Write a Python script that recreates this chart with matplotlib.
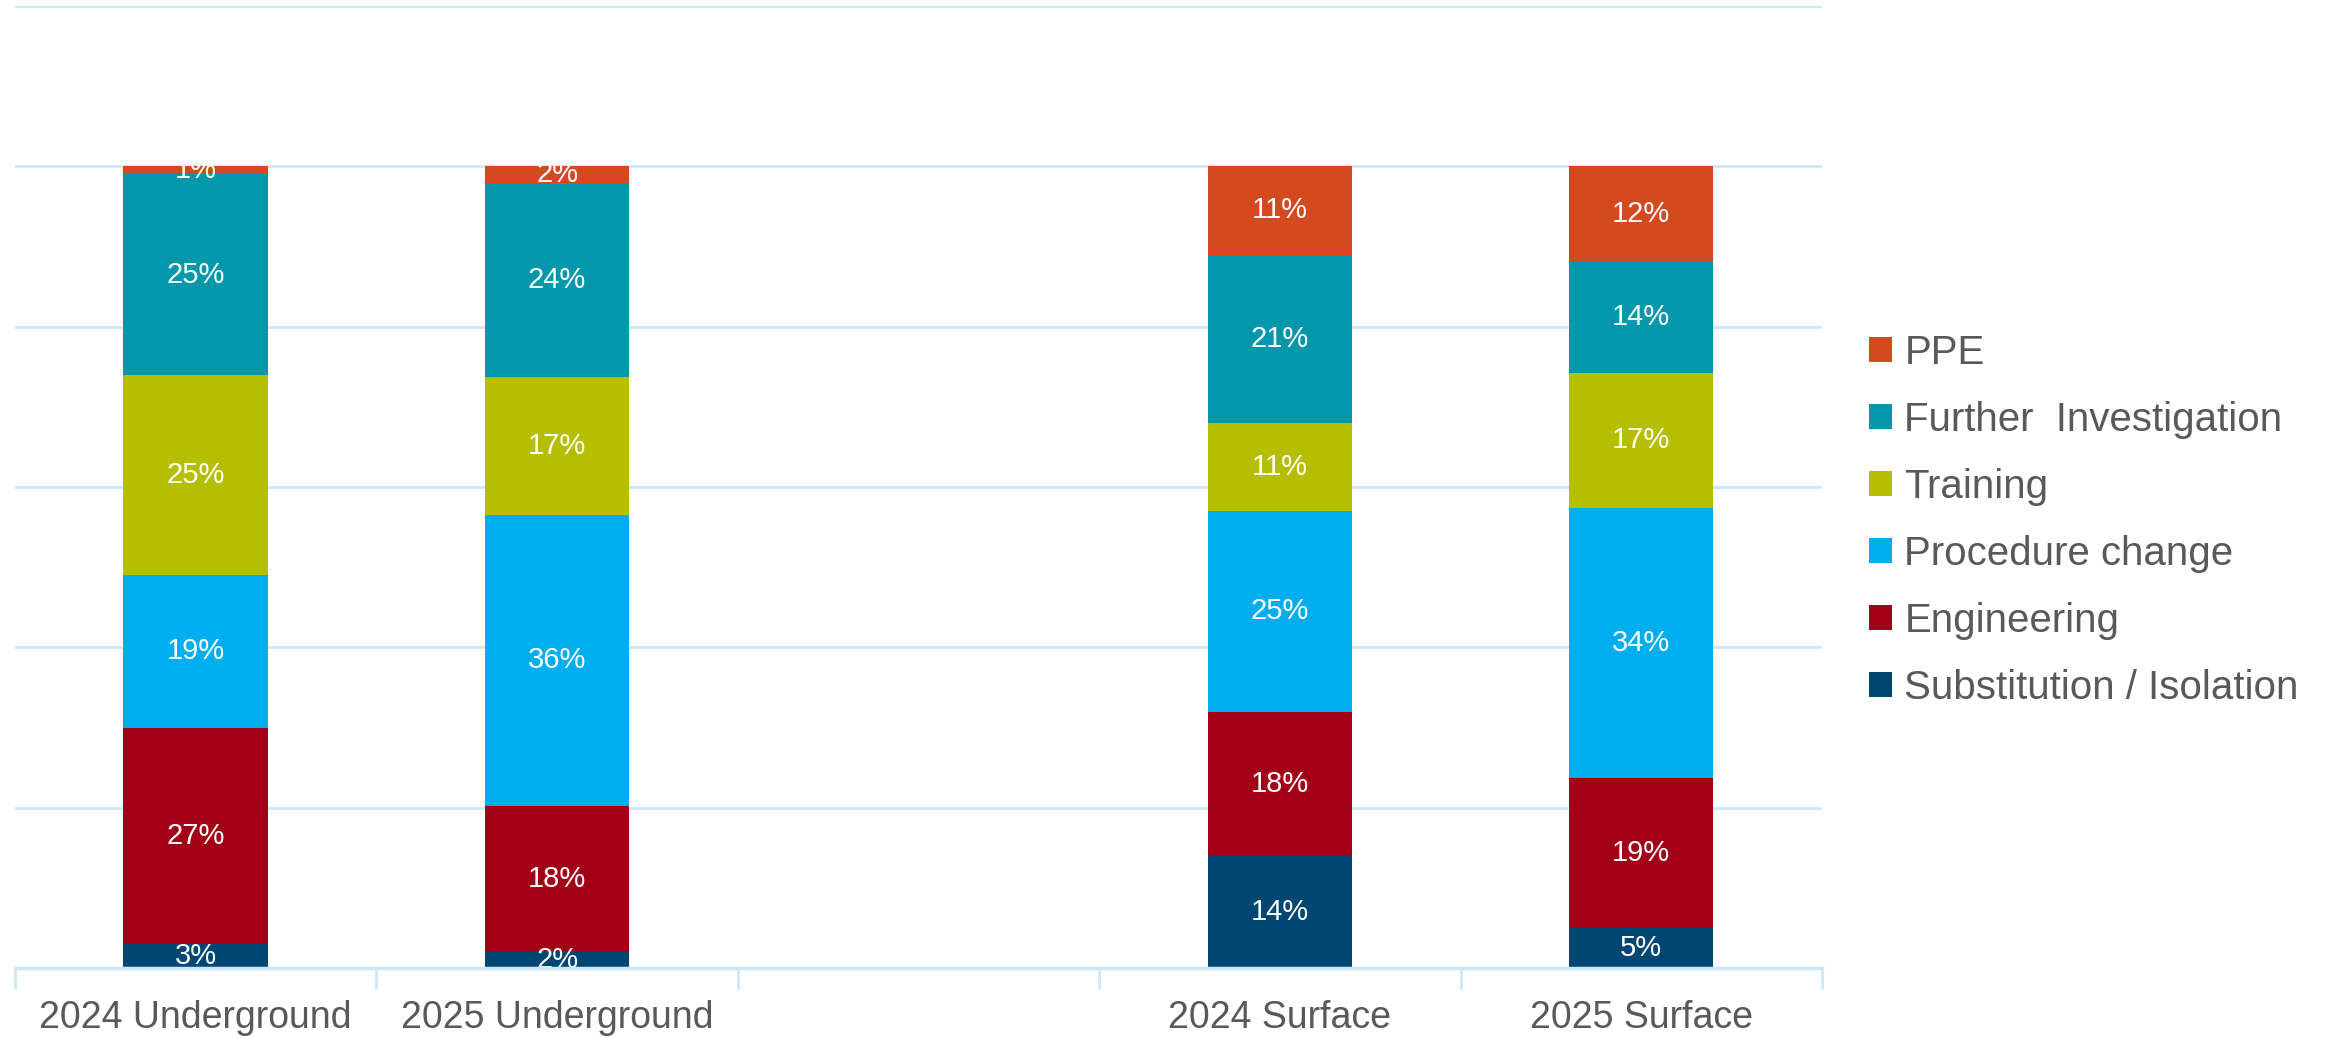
import matplotlib
matplotlib.use("Agg")
import matplotlib.pyplot as plt
from matplotlib.patches import Patch
import numpy as np

plt.rcParams['font.family'] = ['Liberation Sans', 'DejaVu Sans']

categories = ["2024 Underground", "2025 Underground", "", "2024 Surface", "2025 Surface"]
series = ["Substitution / Isolation", "Engineering", "Procedure change",
          "Training", "Further  Investigation", "PPE"]
colors = ["#004673", "#A20016", "#00ADEE", "#B5BF00", "#0297AB", "#D5491F"]

# Percent labels per series, one value per category (None = empty slot)
substitution = [3, 2, None, 14, 5]
engineering = [27, 18, None, 18, 19]
procedure = [19, 36, None, 25, 34]
training = [25, 17, None, 11, 17]
further = [25, 24, None, 21, 14]
ppe = [1, 2, None, 11, 12]
values = [substitution, engineering, procedure, training, further, ppe]

fig = plt.figure(figsize=(23.46, 10.38), dpi=100)
ax = fig.add_axes([0.0064, 0.0674, 0.7702, 0.9268])

grid_col = "#CBE8F8"
x = np.arange(len(categories))
bar_w = 0.4

for ci in range(len(categories)):
    col_vals = [v[ci] for v in values]
    if any(v is None for v in col_vals):
        continue
    total = sum(col_vals)
    bottom = 0.0
    for si, v in enumerate(col_vals):
        h = v / total * 100
        ax.bar(x[ci], h, bottom=bottom, width=bar_w, color=colors[si],
               edgecolor="none", zorder=3)
        ax.text(x[ci], bottom + h / 2, f"{v}%", ha="center", va="center",
                color="white", fontsize=21, zorder=4)
        bottom += h

ax.set_xlim(-0.5, len(categories) - 0.5)
ax.set_ylim(0, 120)
ax.set_yticks(np.arange(0, 121, 20))
ax.yaxis.grid(True, color=grid_col, linewidth=2, zorder=0)
ax.tick_params(axis="y", left=False, labelleft=False)
for s in ["left", "right", "top"]:
    ax.spines[s].set_visible(False)
ax.spines["bottom"].set_color(grid_col)
ax.spines["bottom"].set_linewidth(2.5)
ax.spines["bottom"].set_zorder(5)

# category boundary ticks under the axis
ax.set_xticks(np.arange(-0.5, len(categories) + 0.5, 1.0))
ax.set_xticklabels([])
ax.tick_params(axis="x", length=15, width=2, color=grid_col)
for ci, name in enumerate(categories):
    ax.text(x[ci], -6.2, name, ha="center", va="center", fontsize=27,
            color="#595959", transform=ax.transData, clip_on=False)

handles = [Patch(facecolor=c, edgecolor="none") for c in colors][::-1]
labels = series[::-1]
fig.legend(handles, labels, loc="center left", bbox_to_anchor=(0.790, 0.499),
           frameon=False, fontsize=29, labelcolor="#595959",
           handlelength=0.57, handleheight=0.57, handletextpad=0.3,
           labelspacing=0.72, borderaxespad=0)

fig.savefig("out.png", dpi=100)
